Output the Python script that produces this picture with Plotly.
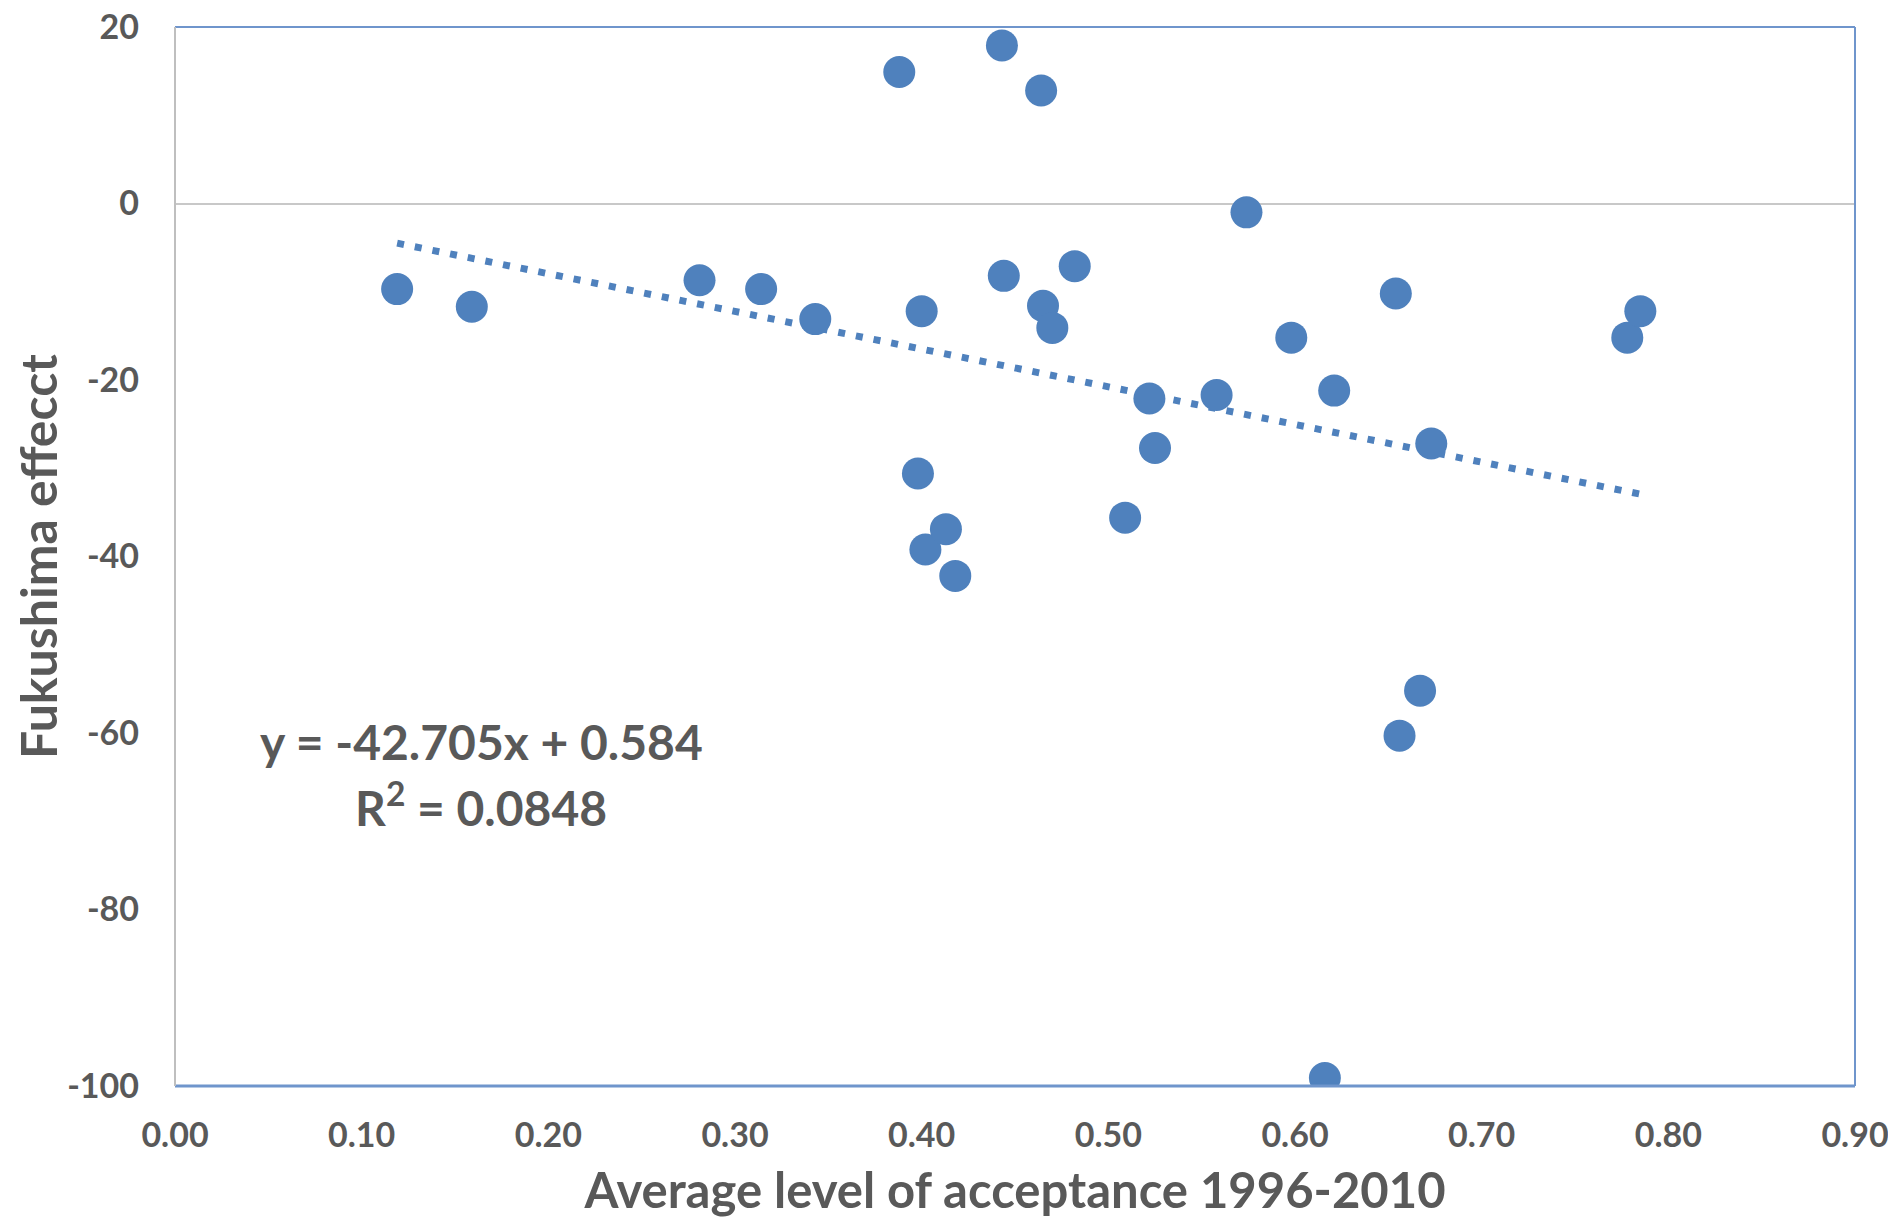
import numpy as np
import plotly.graph_objects as go

# average level of acceptance 1996-2010 (x) vs Fukushima effect (y)
acceptance = [0.119, 0.159, 0.281, 0.314, 0.343, 0.388, 0.400, 0.398, 0.402, 0.413,
              0.418, 0.443, 0.444, 0.464, 0.465, 0.470, 0.482, 0.509, 0.522, 0.525,
              0.558, 0.574, 0.598, 0.621, 0.616, 0.654, 0.656, 0.667, 0.673, 0.778, 0.785]
fukushima = [-9.7, -11.7, -8.7, -9.7, -13.1, 14.9, -12.2, -30.6, -39.2, -36.9,
             -42.2, 17.9, -8.2, 12.8, -11.6, -14.1, -7.1, -35.6, -22.1, -27.7,
             -21.7, -1.0, -15.2, -21.2, -99.1, -10.2, -60.3, -55.2, -27.2, -15.2, -12.2]

slope, intercept, r2 = -42.705, 0.584, 0.0848

x_ticks = [0.0, 0.1, 0.2, 0.3, 0.4, 0.5, 0.6, 0.7, 0.8, 0.9]
y_ticks = [20, 0, -20, -40, -60, -80, -100]

BLUE = '#4F81BD'
GREY_TXT = '#595959'
FONT = 'Lato'

fig = go.Figure()

# linear trendline (Excel style, dotted)
tx = np.array([min(acceptance), max(acceptance)])
fig.add_trace(go.Scatter(x=tx, y=slope * tx + intercept, mode='lines',
                         line=dict(color=BLUE, width=7, dash='7px,11px'),
                         hoverinfo='skip', showlegend=False))

fig.add_trace(go.Scatter(x=acceptance, y=fukushima, mode='markers',
                         marker=dict(color=BLUE, size=32, line=dict(width=0)),
                         showlegend=False))

eq_font = dict(family=FONT, size=48, color=GREY_TXT, weight='bold')
fig.add_annotation(x=0.164, y=-61.0, xref='x', yref='y',
                   text=f'y = {slope}x + {intercept}',
                   showarrow=False, font=eq_font)
fig.add_annotation(x=0.164, y=-68.1, xref='x', yref='y',
                   text=f'R<sup>2</sup> = {r2}',
                   showarrow=False, font=eq_font)

# plot-area border: light blue on top/right/bottom, grey on the left
fig.add_shape(type='line', xref='paper', yref='paper', x0=0, x1=1, y0=1, y1=1,
              line=dict(color='#6F95CC', width=2))
fig.add_shape(type='line', xref='paper', yref='paper', x0=1, x1=1, y0=0, y1=1,
              line=dict(color='#6F95CC', width=2))
fig.add_shape(type='line', xref='paper', yref='paper', x0=0, x1=1, y0=0, y1=0,
              line=dict(color='#6F95CC', width=3))
fig.add_shape(type='line', xref='paper', yref='paper', x0=0, x1=0, y0=0, y1=1,
              line=dict(color='#BFBFBF', width=2))

tick_font = dict(family=FONT, size=34, color=GREY_TXT, weight='bold')
fig.update_xaxes(range=[0, 0.9], tickvals=x_ticks, ticktext=[f'{v:.2f}' for v in x_ticks],
                 showgrid=False, zeroline=False, showline=False, ticks='',
                 tickfont=tick_font, ticklabelstandoff=26, automargin=False,
                 ticklabeloverflow='allow',
                 title=dict(text='Average level of acceptance 1996-2010', standoff=20,
                            font=dict(family=FONT, size=49, color=GREY_TXT, weight='bold')))
fig.update_yaxes(range=[-100, 20], tickvals=y_ticks, ticktext=[str(v) for v in y_ticks],
                 showgrid=False, zeroline=True, zerolinecolor='#C8C8C8', zerolinewidth=2,
                 showline=False, ticks='', tickfont=tick_font, ticklabelstandoff=35,
                 automargin=False, ticklabeloverflow='allow',
                 title=dict(text='Fukushima effecct', standoff=20,
                            font=dict(family=FONT, size=50, color=GREY_TXT, weight='bold')))

# the page puts the figure 8px in from the top-left corner, so margins allow for that
fig.update_layout(width=1896, height=1226, plot_bgcolor='white', paper_bgcolor='white',
                  margin=dict(l=167, r=49, t=19, b=148))

fig.write_html('out.html')
